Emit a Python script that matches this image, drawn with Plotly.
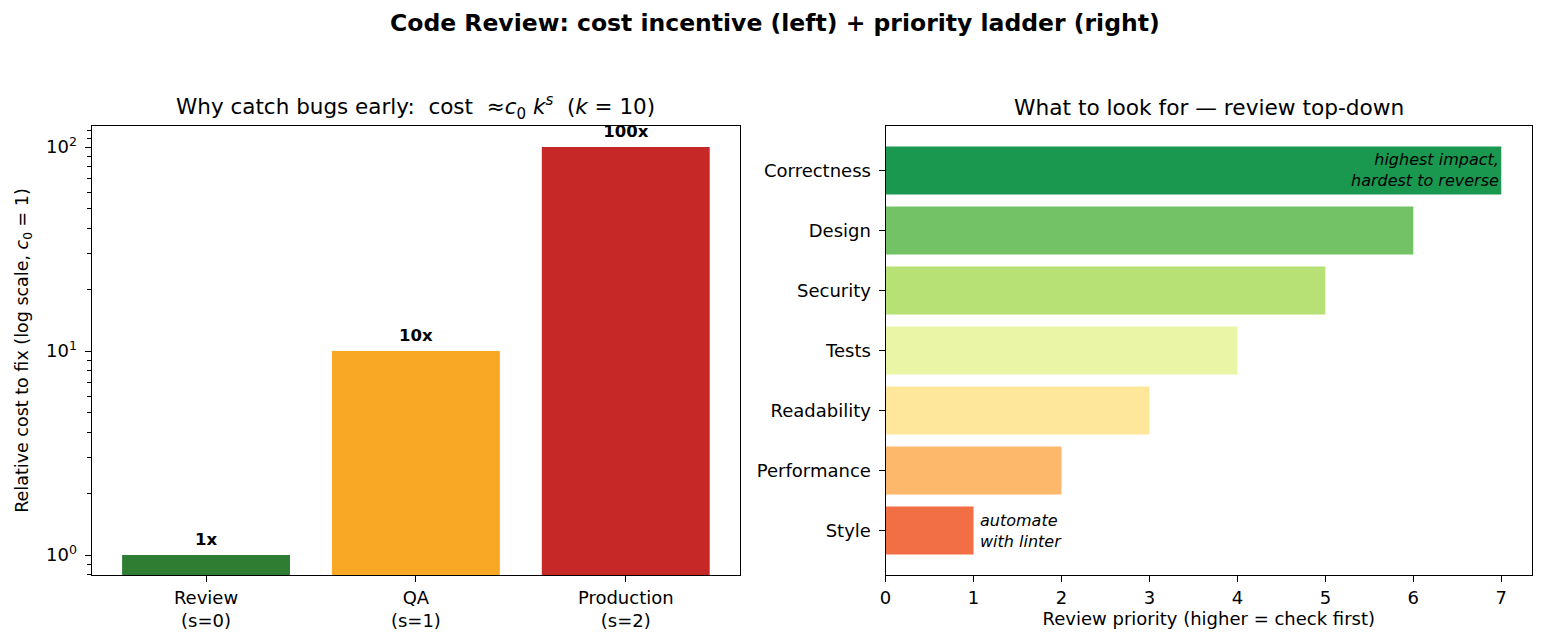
import plotly.graph_objects as go

# ---- data ----
stages = ["Review<br>(s=0)", "QA<br>(s=1)", "Production<br>(s=2)"]
stage_pos = [0, 1, 2]
costs = [1, 10, 100]
cost_labels = ["1x", "10x", "100x"]
stage_colors = ["#2e7d32", "#f9a825", "#c62828"]

aspects = ["Correctness", "Design", "Security", "Tests", "Readability", "Performance", "Style"]
priority = [7, 6, 5, 4, 3, 2, 1]
aspect_colors = ["#1a9850", "#73c366", "#b7e075", "#eaf6a6", "#fee79a", "#feb86b", "#f26e45"]

FONT = "DejaVu Sans"
W, H = 1544, 643

fig = go.Figure()

# left: cost bars (log scale)
fig.add_trace(go.Bar(
    x=stage_pos, y=costs, marker=dict(color=stage_colors, line=dict(width=0)),
    width=0.8, xaxis="x", yaxis="y", showlegend=False, hoverinfo="skip"))
fig.add_trace(go.Scatter(
    x=stage_pos, y=[c * 1.17 for c in costs], mode="text", text=[f"<b>{t}</b>" for t in cost_labels],
    textposition="middle center", textfont=dict(family=FONT, size=16.5, color="black"),
    xaxis="x", yaxis="y", showlegend=False, cliponaxis=False, hoverinfo="skip"))

# right: priority ladder
fig.add_trace(go.Bar(
    x=priority, y=aspects, orientation="h", marker=dict(color=aspect_colors, line=dict(width=0)),
    width=0.8, xaxis="x2", yaxis="y2", showlegend=False, hoverinfo="skip"))

# layout geometry (paper fractions)
L0, L1 = 86 / W, 737 / W
R0, R1 = 883 / W, 1532 / W
Y0, Y1 = 1 - 575 / H, 1 - 126 / H

axis_common = dict(showline=True, linecolor="black", linewidth=1.1, mirror=True,
                   ticks="outside", ticklen=6, tickwidth=1.2, tickcolor="black",
                   showgrid=False, zeroline=False,
                   tickfont=dict(family=FONT, size=18, color="black"))

fig.update_layout(
    width=W, height=H,
    margin=dict(l=0, r=0, t=0, b=0),
    paper_bgcolor="white", plot_bgcolor="white",
    font=dict(family=FONT, color="black"),
    bargap=0.2,
    xaxis=dict(domain=[L0, L1], range=[-0.545, 2.545], tickvals=stage_pos, ticktext=stages,
               **axis_common),
    yaxis=dict(domain=[Y0, Y1], type="log", range=[-0.098, 2.103],
               tickvals=[1, 10, 100], ticktext=["10<sup>0</sup>", "10<sup>1</sup>", "10<sup>2</sup>"],
               ticklabelstandoff=4,
               minor=dict(ticks="outside", ticklen=3.5, tickwidth=1, tickcolor="black",
                          tickvals=[0.8, 0.9, 2, 3, 4, 5, 6, 7, 8, 9, 20, 30, 40, 50, 60, 70, 80, 90, 110, 120]),
               title=dict(text="Relative cost to fix (log scale, <i>c</i><sub>0</sub> = 1)",
                          font=dict(family=FONT, size=17.5), standoff=12),
               **axis_common),
    xaxis2=dict(domain=[R0, R1], range=[0, 7.35], dtick=1, tick0=0, anchor="y2",
                title=dict(text="Review priority (higher = check first)",
                           font=dict(family=FONT, size=18), standoff=4),
                **axis_common),
    yaxis2=dict(domain=[Y0, Y1], anchor="x2", categoryorder="array",
                categoryarray=list(reversed(aspects)), range=[-0.74, 6.74],
                ticklabelstandoff=4,
                **axis_common),
)

annotations = [
    dict(text="<b>Code Review: cost incentive (left) + priority ladder (right)</b>",
         xref="paper", yref="paper", x=0.5, y=1 - 23 / H, xanchor="center", yanchor="middle",
         showarrow=False, font=dict(family=FONT, size=23.5, color="black")),
    dict(text="Why catch bugs early:  cost  ≈<i>c</i><sub>0</sub> <i>k</i><sup><i>s</i></sup>  (<i>k</i> = 10)",
         xref="paper", yref="paper", x=(L0 + L1) / 2, y=1 - 107 / H, xanchor="center", yanchor="middle",
         showarrow=False, font=dict(family=FONT, size=21.5, color="black")),
    dict(text="What to look for — review top-down",
         xref="paper", yref="paper", x=(R0 + R1) / 2, y=1 - 108 / H, xanchor="center", yanchor="middle",
         showarrow=False, font=dict(family=FONT, size=21.7, color="black")),
    dict(text="<i>highest impact,<br>hardest to reverse</i>", xref="x2", yref="y2",
         x=priority[0], y=aspects[0], xanchor="right", yanchor="middle", align="right",
         showarrow=False, font=dict(family=FONT, size=16, color="black")),
    dict(text="<i>automate<br>with linter</i>", xref="x2", yref="y2",
         x=priority[-1] + 0.05, y=aspects[-1], xanchor="left", yanchor="middle", align="left",
         showarrow=False, font=dict(family=FONT, size=16, color="black")),
]
fig.update_layout(annotations=annotations)

fig.write_html("out.html")
